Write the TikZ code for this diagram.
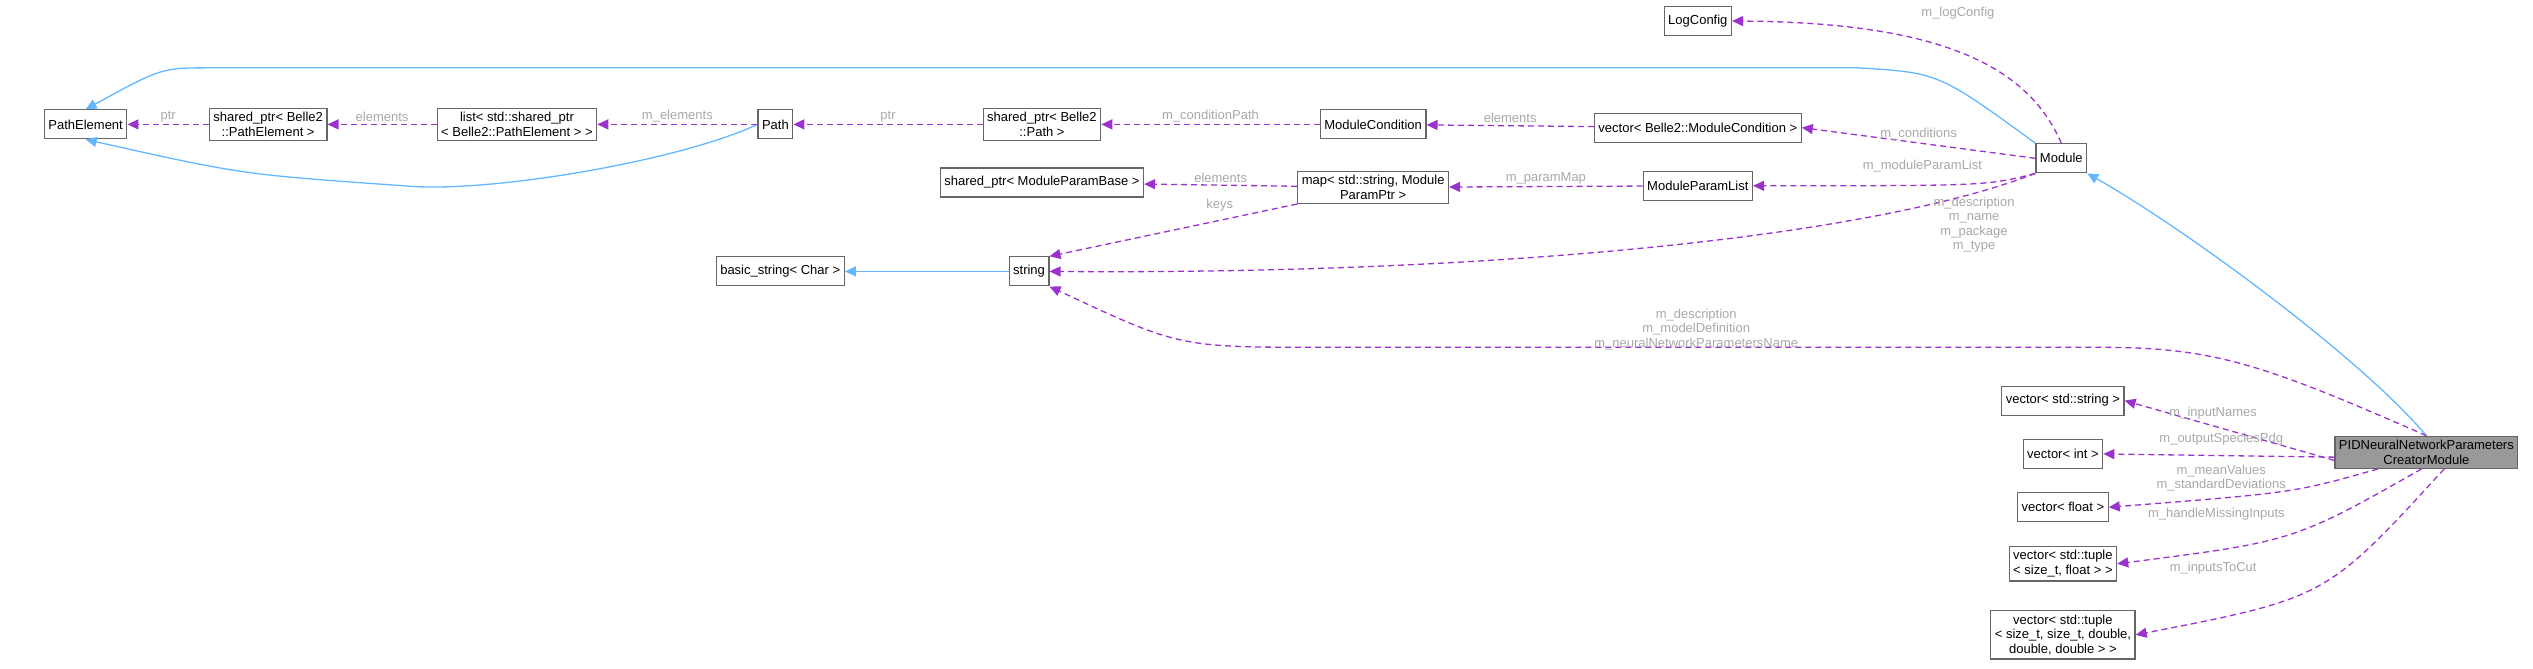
\documentclass[tikz,border=0pt]{standalone}
\usepackage{fontspec}
\setmainfont{Liberation Sans}
\usetikzlibrary{arrows.meta}
\definecolor{uso}{HTML}{9A32CD}
\definecolor{hereda}{HTML}{63B8FF}
\definecolor{etiq}{HTML}{A8A8A8}
\tikzset{
  clase/.style={draw=black!60, line width=1.2pt, fill=white, align=center, inner sep=4pt,
    minimum height=29pt, font=\fontsize{13}{14.5}\selectfont},
  miembro/.style={uso, dashed, dash pattern=on 6pt off 4pt, line width=1.3pt, -{Triangle[length=11pt,width=10pt]}},
  base/.style={hereda, line width=1.3pt, -{Triangle[length=11pt,width=10pt]}},
  rotulo/.style={etiq, align=center, inner sep=0pt, font=\fontsize{13}{14.5}\selectfont}
}
\begin{document}
\begin{tikzpicture}[x=1.615pt, y=-1.615pt]
    \useasboundingbox (0,0) rectangle (1568,414);
    % Clases
    \node[clase] (pe) at (53,77) {PathElement};
    \node[clase] (sppe) at (166,77) {shared\_ptr< Belle2\\::PathElement >};
    \node[clase] (lst) at (320,77) {list< std::shared\_ptr\\< Belle2::PathElement > >};
    \node[clase] (path) at (480,77) {Path};
    \node[clase] (sppath) at (645,77) {shared\_ptr< Belle2\\::Path >};
    \node[clase] (mc) at (850,77) {ModuleCondition};
    \node[clase] (vmc) at (1051,79) {vector< Belle2::ModuleCondition >};
    \node[clase] (log) at (1051,13) {LogConfig};
    \node[clase] (mod) at (1276,98) {Module};
    \node[clase] (spmpb) at (645,113) {shared\_ptr< ModuleParamBase >};
    \node[clase] (map) at (850,116) {map< std::string, Module\\ParamPtr >};
    \node[clase] (mpl) at (1051,115) {ModuleParamList};
    \node[clase] (bs) at (483,168) {basic\_string< Char >};
    \node[clase] (str) at (637,168) {string};
    \node[clase, fill=black!40] (pid) at (1502,280) {PIDNeuralNetworkParameters\\CreatorModule};
    \node[clase] (vstr) at (1277,248) {vector< std::string >};
    \node[clase] (vint) at (1277,281) {vector< int >};
    \node[clase] (vflt) at (1277,314) {vector< float >};
    \node[clase] (vtup) at (1277,349) {vector< std::tuple\\< size\_t, float > >};
    \node[clase] (vtup5) at (1277,393) {vector< std::tuple\\< size\_t, size\_t, double,\\double, double > >};

    % Herencia
    \draw[base] (mod.north west) .. controls (1200,45) .. (1150,42) -- (130,42) .. controls (100,42) .. (pe.north);
    \draw[base] (path.west) .. controls (420,100) and (300,120) .. (250,115) .. controls (150,108) .. (pe.south);
    \draw[base] (str) -- (bs);
    \draw[base] (pid.north) .. controls (1460,220) and (1350,140) .. (mod.south east);

    % Miembros
    \draw[miembro] (sppe) -- node[rotulo, above=2pt] {ptr} (pe);
    \draw[miembro] (lst) -- node[rotulo, above=2pt] {elements} (sppe);
    \draw[miembro] (path) -- node[rotulo, above=2pt] {m\_elements} (lst);
    \draw[miembro] (sppath) -- node[rotulo, above=2pt] {ptr} (path);
    \draw[miembro] (mc) -- node[rotulo, above=2pt] {m\_conditionPath} (sppath);
    \draw[miembro] (vmc) -- node[rotulo, above=2pt] {elements} (mc);
    \draw[miembro] (mod.west) -- node[rotulo, above=2pt] {m\_conditions} (vmc.east);
    \draw[miembro] (mod.north) .. controls (1255,40) and (1200,14) .. (log.east);
    \node[rotulo] at (1212,8) {m\_logConfig};
    \draw[miembro] (mpl) -- node[rotulo, above=2pt] {m\_paramMap} (map);
    \draw[miembro] (mod.south west) .. controls (1230,115) .. (mpl.east);
    \node[rotulo] at (1190,103) {m\_moduleParamList};
    \draw[miembro] (map) -- node[rotulo, above=2pt] {elements} (spmpb);
    \draw[miembro] (map.south west) -- (str.north east);
    \node[rotulo] at (755,127) {keys};
    \draw[miembro] (mod.south west) .. controls (1150,150) and (900,170) .. (str.east);
    \node[rotulo] at (1222,139) {m\_description\\m\_name\\m\_package\\m\_type};
    \draw[miembro] (pid.north) .. controls (1400,225) and (1370,215) .. (1300,215) -- (820,215) .. controls (730,215) .. (str.south east);
    \node[rotulo] at (1050,204) {m\_description\\m\_modelDefinition\\m\_neuralNetworkParametersName};
    \draw[miembro] (pid.west) ++(0,5) -- (vstr.east);
    \node[rotulo] at (1370,256) {m\_inputNames};
    \draw[miembro] (pid.west) ++(0,3) -- (vint.east);
    \node[rotulo] at (1375,272) {m\_outputSpeciesPdg};
    \draw[miembro] (pid.south) ++(-30,0) .. controls (1420,305) .. (vflt.east);
    \node[rotulo] at (1375,296) {m\_meanValues\\m\_standardDeviations};
    \draw[miembro] (pid.south) ++(-3,0) .. controls (1420,335) .. (vtup.east);
    \node[rotulo] at (1372,318) {m\_handleMissingInputs};
    \draw[miembro] (pid.south) ++(11,0) .. controls (1440,370) .. (vtup5.east);
    \node[rotulo] at (1370,352) {m\_inputsToCut};
\end{tikzpicture}
\end{document}
